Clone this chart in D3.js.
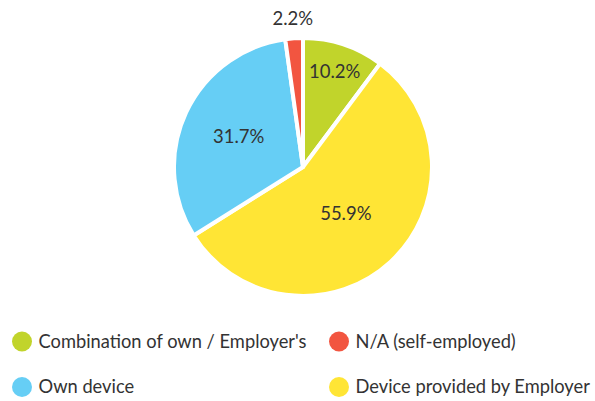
<!DOCTYPE html>
<html><head><meta charset="utf-8">
<script src="https://cdn.jsdelivr.net/npm/d3@7"></script>
<style>body{margin:0;background:#fff;} svg{display:block;font-family:Lato,"Noto Sans",sans-serif;}</style>
</head><body>
<svg id="c" width="595" height="401"></svg>
<script>
const categories = ["Combination of own / Employer's", "Device provided by Employer", "Own device", "N/A (self-employed)"];
const values = [10.2, 55.9, 31.7, 2.2];
const colors = ["#C1D42B", "#FFE535", "#66CEF5", "#F25540"];
const labelRadius = [0.78, 0.49, 0.55, 1.15];
const legendOrder = [0, 3, 2, 1];

const svg = d3.select("#c");
const cx = 303, cy = 167, r = 129;
const pie = d3.pie().sort(null).value(d => d)(values);
const arc = d3.arc().innerRadius(0).outerRadius(r);
const g = svg.append("g").attr("transform", `translate(${cx},${cy})`);
g.selectAll("path").data(pie).join("path")
  .attr("d", arc).attr("fill", (d, i) => colors[i])
  .attr("stroke", "#fff").attr("stroke-width", 4).attr("stroke-linejoin", "miter");
g.selectAll("text").data(pie).join("text")
  .attr("transform", (d, i) => {
    const a = (d.startAngle + d.endAngle) / 2, rr = r * labelRadius[i];
    return `translate(${rr * Math.sin(a)},${-rr * Math.cos(a)})`;
  })
  .attr("text-anchor", "middle").attr("dy", "0.35em")
  .attr("font-size", 18.5).attr("fill", "#333")
  .text(d => d3.format(".1f")(d.data) + "%");

const leg = svg.append("g");
const items = leg.selectAll("g").data(legendOrder).join("g")
  .attr("transform", (d, k) => `translate(${k % 2 === 0 ? 22 : 339},${k < 2 ? 341.5 : 387})`);
items.append("circle").attr("r", 10).attr("fill", d => colors[d]);
items.append("text").attr("x", 16.5).attr("dy", "0.35em").attr("font-size", 18.3).attr("fill", "#333")
  .text(d => categories[d]);
</script>
</body></html>
